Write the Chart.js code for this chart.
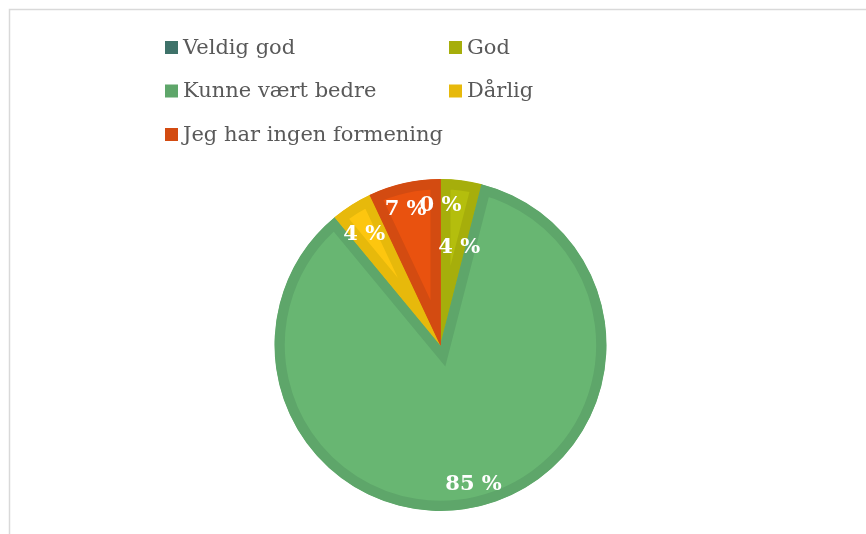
<!DOCTYPE html>
<html>
<head>
<meta charset="utf-8">
<script src="https://cdn.jsdelivr.net/npm/chart.js@4/dist/chart.umd.min.js"></script>
<style>
  html, body { margin: 0; padding: 0; background: #ffffff; }
  #wrap { position: relative; width: 866px; height: 534px; }
</style>
</head>
<body>
<div id="wrap"><canvas id="pie" width="866" height="534"></canvas></div>
<script>
// Answers to the survey question, in percent
const categories = ['Veldig god', 'God', 'Kunne vært bedre', 'Dårlig', 'Jeg har ingen formening'];
const shares = [0, 4, 85, 4, 7];

// Slice fills and their darker outlines (outline colour also used in the legend)
const fillColors = ['#44796f', '#b4be0d', '#68b672', '#fdc60f', '#e9520f'];
const edgeColors = ['#3e7269', '#a6ae0b', '#5ea66a', '#e7b90b', '#d34b11'];

// Frame around the chart
const framePlugin = {
  id: 'frame',
  beforeDraw(chart) {
    const ctx = chart.ctx;
    ctx.save();
    ctx.strokeStyle = '#d9d9d9';
    ctx.lineWidth = 1.5;
    ctx.strokeRect(9.5, 9.5, chart.width + 20, chart.height + 20);
    ctx.restore();
  }
};

// Two-column legend at the top
const gridLegend = {
  id: 'gridLegend',
  afterDraw(chart, args, opts) {
    const ctx = chart.ctx;
    const labels = chart.data.labels;
    const ds = chart.data.datasets[0];
    ctx.save();
    ctx.font = opts.font;
    ctx.textBaseline = 'middle';
    ctx.textAlign = 'left';
    labels.forEach((lab, i) => {
      const col = i % 2, row = Math.floor(i / 2);
      const x = opts.x + col * opts.colWidth;
      const y = opts.y + row * opts.rowHeight;
      ctx.fillStyle = ds.borderColor[i];
      ctx.fillRect(x, y - opts.box / 2, opts.box, opts.box);
      ctx.fillStyle = opts.color;
      ctx.fillText(lab, x + opts.box + 5, y + 1);
    });
    ctx.restore();
  }
};

// Percentage labels on the slices
const sliceLabels = {
  id: 'sliceLabels',
  afterDatasetsDraw(chart, args, opts) {
    const ctx = chart.ctx;
    const meta = chart.getDatasetMeta(0);
    const values = chart.data.datasets[0].data;
    ctx.save();
    ctx.font = opts.font;
    ctx.fillStyle = opts.color;
    ctx.textAlign = 'center';
    ctx.textBaseline = 'middle';
    meta.data.forEach((arc, i) => {
      const p = arc.getProps(['x', 'y', 'startAngle', 'endAngle', 'outerRadius'], true);
      const place = opts.placement[i];
      const mid = (p.startAngle + p.endAngle) / 2 + place.shift * Math.PI / 180;
      const r = p.outerRadius * place.r;
      ctx.fillText(values[i] + ' %', p.x + Math.cos(mid) * r, p.y + Math.sin(mid) * r);
    });
    ctx.restore();
  }
};

new Chart(document.getElementById('pie'), {
  type: 'pie',
  data: {
    labels: categories,
    datasets: [{
      data: shares,
      backgroundColor: fillColors,
      borderColor: edgeColors,
      borderWidth: 10,
      borderAlign: 'inner',
      borderJoinStyle: 'miter'
    }]
  },
  options: {
    responsive: false,
    animation: false,
    events: [],
    layout: { padding: { left: 274.5, top: 179, right: 259.5, bottom: 23 } },
    plugins: {
      legend: { display: false },
      tooltip: { enabled: false },
      gridLegend: {
        x: 165, y: 47.5, colWidth: 284, rowHeight: 43.5, box: 13,
        font: '21px "DejaVu Serif"', color: '#595959'
      },
      sliceLabels: {
        font: 'bold 21px "DejaVu Serif"', color: '#ffffff',
        placement: [
          { r: 0.84, shift: 0 },
          { r: 0.6, shift: 3.6 },
          { r: 0.865, shift: -0.7 },
          { r: 0.81, shift: -2.2 },
          { r: 0.845, shift: -1.8 }
        ]
      }
    }
  },
  plugins: [framePlugin, gridLegend, sliceLabels]
});
</script>
</body>
</html>
